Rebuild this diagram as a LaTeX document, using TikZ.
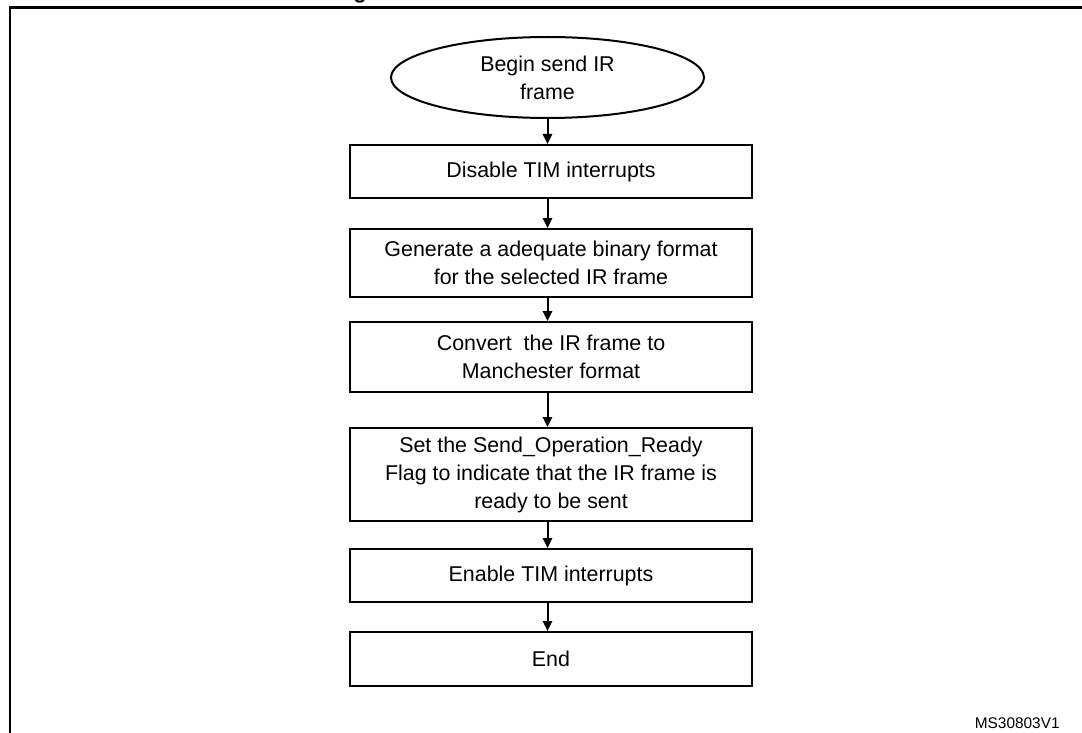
\documentclass[tikz,border=0pt]{standalone}
\usepackage{fontspec}
\setmainfont{Liberation Sans}
\usetikzlibrary{shapes,arrows.meta,positioning}

\begin{document}
\begin{tikzpicture}[x=0.5pt,y=-0.5pt]
	\tikzstyle{Txt}		= [font=\fontsize{10.7}{14}\selectfont, align=center, inner sep=0pt]
	\tikzstyle{Step}	= [Txt, rectangle, draw, line width=1pt, minimum width=201pt]
	\tikzstyle{Term}	= [Txt, ellipse, draw, line width=1pt, minimum width=156.5pt, minimum height=40.5pt]
	\tikzstyle{Flow}	= [line width=1pt, -{Triangle[length=5pt,width=4.6pt]}]
	\tikzstyle{Frame}	= [line width=1.2pt]

	\useasboundingbox (0,0) rectangle (1082,733);

	% frame and cut caption
	\draw [Frame] (10,745) -- (10,7.5) -- (1095,7.5);
	\node (cap) at (353,-1.5) [anchor=base west, inner sep=0pt, font=\bfseries\fontsize{11}{13}\selectfont] {g};

	\node (start) at (547.5, 77.5) [Term] {Begin send IR\\frame};
	\node (b1) at (551, 171.5) [Step, minimum height=26.5pt] {Disable TIM interrupts};
	\node (b2) at (551, 263) [Step, minimum height=34pt] {Generate a adequate binary format\\for the selected IR frame};
	\node (b3) at (551, 357) [Step, minimum height=35pt] {Convert\ \ the IR frame to\\Manchester format};
	\node (b4) at (551, 474.5) [Step, minimum height=46.5pt] {Set the Send\_Operation\_Ready\\Flag to indicate that the IR frame is\\ready to be sent};
	\node (b5) at (551, 575.5) [Step, minimum height=26.5pt] {Enable TIM interrupts};
	\node (end) at (551, 659) [Step, minimum height=27pt] {End};

	\node (id) at (1060, 728) [anchor=base east, inner sep=0pt, font=\fontsize{7.7}{9}\selectfont] {MS30803V1};

	\draw [Flow] (start.south) to (start.south |- b1.north);
	\draw [Flow] (b1.south -| start) to (b2.north -| start);
	\draw [Flow] (b2.south -| start) to (b3.north -| start);
	\draw [Flow] (b3.south -| start) to (b4.north -| start);
	\draw [Flow] (b4.south -| start) to (b5.north -| start);
	\draw [Flow] (b5.south -| start) to (end.north -| start);
\end{tikzpicture}
\end{document}
